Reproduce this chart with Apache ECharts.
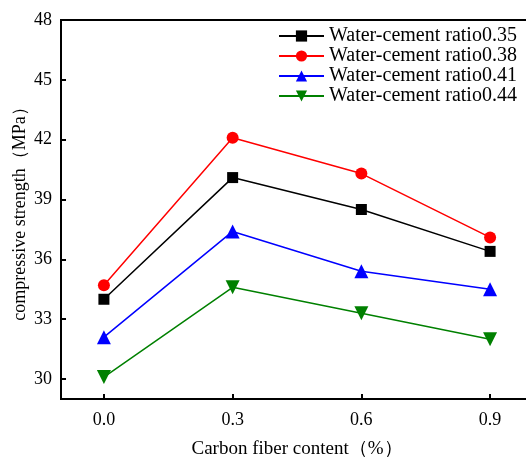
<!DOCTYPE html>
<html>
<head>
<meta charset="utf-8">
<script src="https://cdn.jsdelivr.net/npm/echarts@6/dist/echarts.min.js"></script>
<style>
html, body { margin: 0; padding: 0; background: #fff; }
#main { width: 526px; height: 457px; }
</style>
</head>
<body>
<div id="main"></div>
<script>
// fiber content (%) on the x axis
var fiberContent = [0.0, 0.3, 0.6, 0.9];
var seriesNames = ['Water-cement ratio0.35', 'Water-cement ratio0.38', 'Water-cement ratio0.41', 'Water-cement ratio0.44'];
var ratio035 = [34.0, 40.1, 38.5, 36.4];
var ratio038 = [34.7, 42.1, 40.3, 37.1];
var ratio041 = [32.1, 37.4, 35.4, 34.5];
var ratio044 = [30.1, 34.6, 33.3, 32.0];
var yTicks = [30, 33, 36, 39, 42, 45, 48];
var xTicks = [0.0, 0.3, 0.6, 0.9];

var font = '"Liberation Serif", "Times New Roman", serif';

function pairs(vals) {
    return fiberContent.map(function (x, i) { return [x, vals[i]]; });
}

function makeSeries(name, vals, color, symbol, size) {
    return {
        name: name,
        type: 'line',
        data: pairs(vals),
        symbol: symbol,
        symbolSize: size,
        showSymbol: true,
        lineStyle: { color: color, width: 1.5 },
        itemStyle: { color: color },
        emphasis: { disabled: true }
    };
}

var myChart = echarts.init(document.getElementById('main'));
var option = {
    animation: false,
    backgroundColor: '#fff',
    grid: {
        left: 61, top: 20, width: 472, bottom: 58,
        outerBoundsMode: 'none',
        show: true, borderColor: '#000', borderWidth: 2
    },
    legend: {
        top: 21, left: 273,
        orient: 'vertical',
        itemGap: 0,
        itemWidth: 45, itemHeight: 14,
        textStyle: { fontFamily: font, fontSize: 20, color: '#000' },
        data: seriesNames
    },
    xAxis: {
        type: 'value',
        min: -0.1, max: 1.0,
        name: 'Carbon fiber content（%）',
        nameLocation: 'middle',
        nameGap: 41,
        nameTextStyle: { fontFamily: font, fontSize: 19, color: '#000' },
        axisLine: { onZero: false, lineStyle: { color: '#000', width: 2 } },
        axisTick: { inside: true, length: 5, lineStyle: { width: 2 }, customValues: xTicks },
        axisLabel: {
            fontFamily: font, fontSize: 18, color: '#000', margin: 12,
            customValues: xTicks,
            formatter: function (v) { return v.toFixed(1); }
        },
        splitLine: { show: false }
    },
    yAxis: {
        type: 'value',
        min: 29, max: 48,
        name: 'compressive strength（MPa）',
        nameLocation: 'middle',
        nameGap: 32,
        nameMoveOverlap: false,
        nameTextStyle: { fontFamily: font, fontSize: 18, color: '#000' },
        axisLine: { show: true, onZero: false, lineStyle: { color: '#000', width: 2 } },
        axisTick: { inside: true, length: 5, lineStyle: { width: 2 }, customValues: yTicks },
        axisLabel: {
            fontFamily: font, fontSize: 18, color: '#000', margin: 9,
            customValues: yTicks
        },
        splitLine: { show: false }
    },
    series: [
        makeSeries(seriesNames[0], ratio035, '#000000', 'rect', 11),
        makeSeries(seriesNames[1], ratio038, '#ff0000', 'circle', 12),
        makeSeries(seriesNames[2], ratio041, '#0000ff', 'triangle', 14),
        makeSeries(seriesNames[3], ratio044, '#008000', 'path://M0,0 L10,0 L5,9 Z', 14)
    ]
};
myChart.setOption(option);
</script>
</body>
</html>
